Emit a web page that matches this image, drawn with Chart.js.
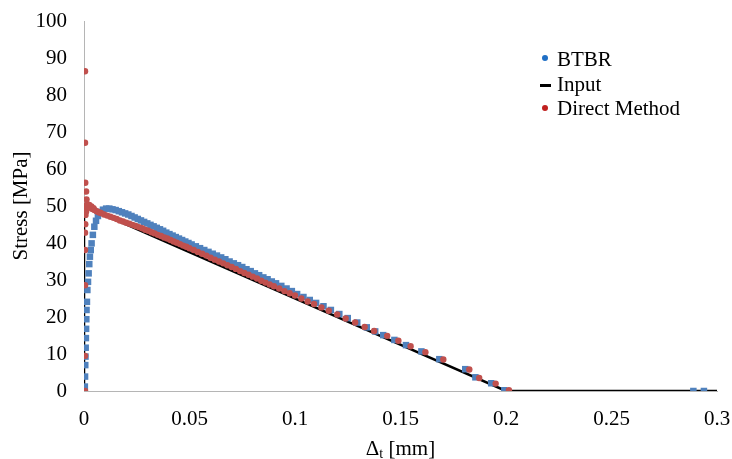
<!DOCTYPE html>
<html>
<head>
<meta charset="utf-8">
<title>Stress vs separation</title>
<script src="https://cdn.jsdelivr.net/npm/chart.js@4.4.1/dist/chart.umd.min.js"></script>
<style>
  html, body { margin: 0; padding: 0; background: #fff; }
  #wrap { position: relative; width: 732px; height: 459px; }
  #legend {
    position: absolute; left: 0; top: 0;
    font-family: "Liberation Serif", "Times New Roman", serif;
    font-size: 21px; line-height: 25px; color: #000;
  }
  #legend .row { position: absolute; left: 557px; white-space: nowrap; }
  #legend .mk { position: absolute; }
</style>
</head>
<body>
<div id="wrap">
  <canvas id="stressChart" width="732" height="459"></canvas>
  <div id="legend">
    <div class="row" style="top:47px">BTBR</div>
    <div class="mk" style="left:542px;top:55px;width:6px;height:6px;border-radius:3px;background:#1F6FC5"></div>
    <div class="row" style="top:72px">Input</div>
    <div class="mk" style="left:540px;top:84px;width:11px;height:3px;background:#000"></div>
    <div class="row" style="top:96px">Direct Method</div>
    <div class="mk" style="left:542px;top:105px;width:6px;height:6px;border-radius:3px;background:#C0201F"></div>
  </div>
</div>
<script>
// Input traction-separation law
const inputX = [0, 0, 0.2, 0.3];
const inputY = [0, 50, 0, 0];

// BTBR results
const btbrX = [
  0.0003, 0.0004, 0.0005, 0.0006, 0.0007, 0.0008, 0.0009, 0.0010, 0.0011, 0.0012,
  0.0014, 0.0016, 0.0019, 0.0022, 0.0025, 0.0028, 0.0032, 0.0036, 0.0042, 0.0049,
  0.0057, 0.0066, 0.0077, 0.0090, 0.0105, 0.0120, 0.0135, 0.0150, 0.0165, 0.0180,
  0.0195, 0.0210, 0.0225, 0.0240, 0.0255, 0.0270, 0.0285, 0.0300, 0.0315, 0.0330,
  0.0345, 0.0360, 0.0375, 0.0390, 0.0405, 0.0420, 0.0435, 0.0450, 0.0465, 0.0480,
  0.0495, 0.0510, 0.0530, 0.0550, 0.0570, 0.0590, 0.0610, 0.0630, 0.0650, 0.0670,
  0.0690, 0.0710, 0.0730, 0.0750, 0.0770, 0.0790, 0.0810, 0.0830, 0.0850, 0.0870,
  0.0890, 0.0910, 0.0935, 0.0960, 0.0985, 0.1010, 0.1040, 0.1070, 0.1100, 0.1135,
  0.1170, 0.1210, 0.1250, 0.1295, 0.1340, 0.1380, 0.1418, 0.1471, 0.1526, 0.1599,
  0.1684, 0.1807, 0.1855, 0.1930, 0.1992, 0.2888, 0.2938
];
const btbrY = [
  0.0, 1.2, 3.9, 7.0, 9.3, 11.7, 14.3, 16.8, 19.4, 21.9,
  24.1, 27.3, 29.5, 31.8, 34.3, 36.3, 38.1, 39.9, 42.2, 44.4,
  46.0, 47.3, 48.4, 49.0, 49.3, 49.3, 49.1, 48.9, 48.6, 48.3,
  48.0, 47.7, 47.3, 46.9, 46.5, 46.1, 45.7, 45.3, 44.9, 44.5,
  44.1, 43.7, 43.3, 42.8, 42.4, 42.0, 41.6, 41.2, 40.8, 40.4,
  40.0, 39.6, 39.1, 38.6, 38.1, 37.6, 37.1, 36.6, 36.1, 35.6,
  35.0, 34.5, 34.0, 33.5, 32.9, 32.4, 31.8, 31.3, 30.7, 30.2,
  29.6, 29.1, 28.4, 27.7, 27.0, 26.2, 25.4, 24.6, 23.8, 22.9,
  21.9, 20.8, 19.7, 18.5, 17.2, 16.1, 15.1, 13.8, 12.4, 10.7,
  8.6, 5.9, 3.7, 2.1, 0.2, 0.0, 0.0
];

// Direct method results
const directX = [
  0.0005, 0.0005, 0.0005, 0.0005, 0.0005, 0.0006, 0.0007, 0.0008, 0.0012, 0.0010,
  0.0006, 0.0005, 0.0005, 0.0010, 0.0015, 0.0020, 0.0025, 0.0030, 0.0035, 0.0040,
  0.0045, 0.0050, 0.0060, 0.0070, 0.0080, 0.0095, 0.0110, 0.0125, 0.0140, 0.0155,
  0.0170, 0.0185, 0.0200, 0.0215, 0.0230, 0.0245, 0.0260, 0.0275, 0.0290, 0.0305,
  0.0320, 0.0335, 0.0350, 0.0365, 0.0380, 0.0395, 0.0410, 0.0425, 0.0440, 0.0455,
  0.0470, 0.0485, 0.0500, 0.0520, 0.0540, 0.0560, 0.0580, 0.0600, 0.0620, 0.0640,
  0.0660, 0.0680, 0.0700, 0.0720, 0.0740, 0.0760, 0.0780, 0.0800, 0.0820, 0.0840,
  0.0860, 0.0880, 0.0900, 0.0925, 0.0950, 0.0975, 0.1000, 0.1030, 0.1060, 0.1090,
  0.1125, 0.1160, 0.1200, 0.1240, 0.1285, 0.1330, 0.1375, 0.1437, 0.1490, 0.1548,
  0.1618, 0.1703, 0.1826, 0.1873, 0.1951, 0.2014
];
const directY = [
  0.0, 9.5, 28.6, 38.1, 42.8, 45.1, 47.6, 49.8, 51.8, 53.9,
  56.3, 67.1, 86.4, 48.5, 50.5, 49.8, 50.3, 49.5, 49.9, 49.2,
  49.4, 48.9, 48.6, 48.3, 48.1, 47.7, 47.4, 47.1, 46.8, 46.5,
  46.1, 45.8, 45.5, 45.2, 44.9, 44.6, 44.3, 44.0, 43.6, 43.3,
  42.9, 42.6, 42.2, 41.9, 41.5, 41.2, 40.8, 40.4, 40.1, 39.7,
  39.3, 39.0, 38.6, 38.1, 37.6, 37.1, 36.6, 36.0, 35.5, 35.0,
  34.5, 34.0, 33.5, 33.0, 32.4, 31.9, 31.4, 30.9, 30.4, 29.8,
  29.3, 28.8, 28.3, 27.7, 27.0, 26.4, 25.8, 25.0, 24.2, 23.5,
  22.6, 21.7, 20.7, 19.6, 18.5, 17.3, 16.2, 14.9, 13.6, 12.1,
  10.5, 8.5, 5.8, 3.5, 2.0, 0.2
];

const toPoints = (xs, ys) => xs.map((x, i) => ({ x: x, y: ys[i] }));

const serif = '"Liberation Serif", "Times New Roman", serif';

// x axis title with subscript t, drawn under the ticks
const xTitlePlugin = {
  id: "xTitle",
  afterDraw(chart) {
    const ctx = chart.ctx;
    const area = chart.chartArea;
    const big = "21px " + serif;
    const small = "14px " + serif;
    ctx.save();
    ctx.fillStyle = "#000";
    ctx.textBaseline = "alphabetic";
    ctx.font = big;
    const wD = ctx.measureText("\u0394").width;
    const wR = ctx.measureText(" [mm]").width;
    ctx.font = small;
    const wT = ctx.measureText("t").width;
    let x = (area.left + area.right) / 2 - (wD + wT + wR) / 2;
    const base = 455;
    ctx.font = big;
    ctx.fillText("\u0394", x, base);
    x += wD;
    ctx.font = small;
    ctx.fillText("t", x, base + 3);
    x += wT;
    ctx.font = big;
    ctx.fillText(" [mm]", x, base);
    ctx.restore();
  },
};

const ctx = document.getElementById("stressChart").getContext("2d");

new Chart(ctx, {
  type: "scatter",
  data: {
    datasets: [
      {
        label: "Direct Method",
        data: toPoints(directX, directY),
        backgroundColor: "#C0504D",
        borderWidth: 0,
        pointStyle: "circle",
        pointRadius: 3.2,
        order: 0,
      },
      {
        label: "BTBR",
        data: toPoints(btbrX, btbrY),
        backgroundColor: "#4F81BD",
        borderWidth: 0,
        pointStyle: "rect",
        pointRadius: 4.6,
        order: 1,
      },
      {
        label: "Input",
        data: toPoints(inputX, inputY),
        showLine: true,
        borderColor: "#000",
        borderWidth: 2.5,
        pointRadius: 0,
        order: 2,
      },
    ],
  },
  options: {
    responsive: false,
    animation: false,
    layout: {
      padding: { top: 21, right: 15, left: 0, bottom: 0 },
    },
    plugins: {
      legend: { display: false },
      tooltip: { enabled: false },
    },
    scales: {
      x: {
        type: "linear",
        min: 0,
        max: 0.3,
        grid: { display: false, drawTicks: false },
        border: { display: true, color: "#B5B5B5", width: 1 },
        ticks: {
          stepSize: 0.05,
          padding: 16,
          maxRotation: 0,
          color: "#000",
          font: { family: serif, size: 21 },
          callback: (v) => String(Number(v.toFixed(2))),
        },
        afterFit: (scale) => {
          scale.height = 68;
          scale.paddingLeft = 0;
          scale.paddingRight = 0;
        },
      },
      y: {
        min: 0,
        max: 100,
        grid: { display: false, drawTicks: false },
        border: { display: true, color: "#B5B5B5", width: 1 },
        ticks: {
          stepSize: 10,
          padding: 17,
          color: "#000",
          font: { family: serif, size: 21 },
        },
        title: {
          display: true,
          text: "Stress [MPa]",
          color: "#000",
          font: { family: serif, size: 21 },
          padding: { top: 9, bottom: 0 },
        },
        afterFit: (scale) => {
          scale.width = 84;
          scale.paddingTop = 0;
          scale.paddingBottom = 0;
        },
      },
    },
  },
  plugins: [xTitlePlugin],
});
</script>
</body>
</html>
